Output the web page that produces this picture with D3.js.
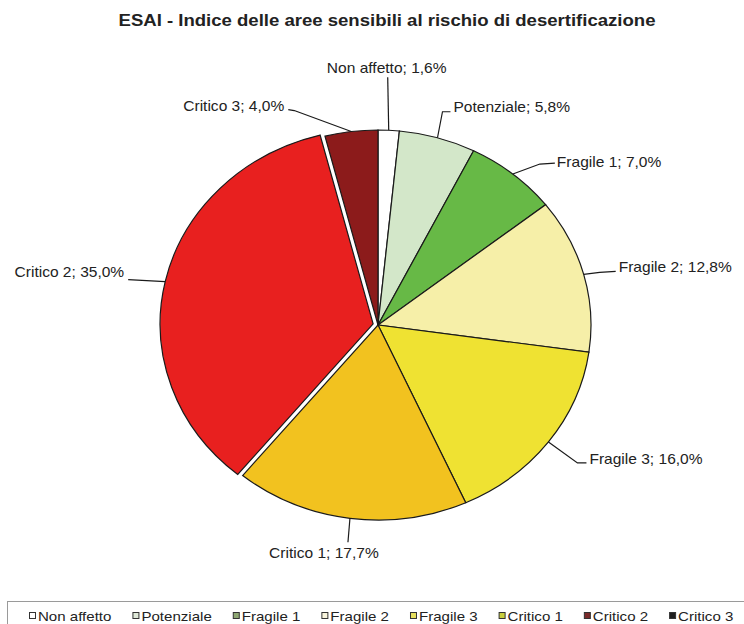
<!DOCTYPE html>
<html>
<head>
<meta charset="utf-8">
<script src="https://cdn.jsdelivr.net/npm/d3@7"></script>
<style>
  html, body { margin: 0; padding: 0; background: #ffffff; }
  svg { display: block; }
  text { font-family: "Liberation Sans", Arial, sans-serif; fill: #222; }
</style>
</head>
<body>
<script>
// ESAI classes and their share of the territory (%)
const categories = ["Non affetto", "Potenziale", "Fragile 1", "Fragile 2", "Fragile 3", "Critico 1", "Critico 2", "Critico 3"];
const values = [1.6, 5.8, 7.0, 12.8, 16.0, 17.7, 35.0, 4.0];
const sliceColors = ["#ffffff", "#d3e7c9", "#67b946", "#f6efa8", "#efe232", "#f2c21f", "#e8201f", "#8c1b1b"];
const legendColors = ["#ffffff", "#dfe9d8", "#8fa873", "#f8f4dc", "#e6df5e", "#c9cf3e", "#7b2b2b", "#1e1e1e"];
const explodedIndex = 6;

// leader-line layout: elbow / tail / text offsets from the slice edge point
const labelLayout = [
  { elbow: [-1, -53], tail: null,      text: [-2, -62],  anchor: "middle" },
  { elbow: [5, -26],  tail: [13, -26], text: [16, -31],  anchor: "start" },
  { elbow: [27, -10], tail: [42, -11], text: [44, -12],  anchor: "start" },
  { elbow: [16, -2],  tail: [32, -3],  text: [35, -7],   anchor: "start" },
  { elbow: [29, 21],  tail: [38, 21],  text: [41, 17],   anchor: "start" },
  { elbow: [-2, 24],  tail: null,      text: [-26, 35],  anchor: "middle" },
  { elbow: [-37, -2], tail: null,      text: [-41, -10], anchor: "end" },
  { elbow: [-57, -21], tail: [-63, -22], text: [-67, -25], anchor: "end" }
];

const W = 744, H = 624;
const cx = 378, cy = 325, rx = 213, ry = 195;
const explode = 5;

const fmt = v => d3.format(".1f")(v).replace(".", ",") + "%";

// horizontally widened text, anchored at x
function widen(sel, x, k) {
  return sel.attr("transform", `translate(${x},0) scale(${k},1) translate(${-x},0)`);
}

const svg = d3.select("body").append("svg")
  .attr("width", W).attr("height", H);

svg.append("rect").attr("width", W).attr("height", H).attr("fill", "#fff");

// title
widen(svg.append("text")
  .attr("x", 387).attr("y", 26)
  .attr("text-anchor", "middle")
  .style("font-size", "16px")
  .style("font-weight", "bold")
  .text("ESAI - Indice delle aree sensibili al rischio di desertificazione"), 387, 1.16);

// pie (drawn on a circle of radius rx, squeezed vertically into an ellipse)
const pie = d3.pie().sort(null).value(d => d).startAngle(0).endAngle(2 * Math.PI);
const arcs = pie(values);
const arc = d3.arc().innerRadius(0).outerRadius(rx);

const pieG = svg.append("g")
  .attr("transform", `translate(${cx},${cy}) scale(1,${ry / rx})`);

const explodeShift = d => {
  const a = (d.startAngle + d.endAngle) / 2;
  return `translate(${explode * Math.sin(a)},${-explode * Math.cos(a) * rx / ry})`;
};

pieG.selectAll("path.slice")
  .data(arcs)
  .join("path")
  .attr("class", "slice")
  .attr("d", arc)
  .attr("transform", (d, i) => i === explodedIndex ? explodeShift(d) : null)
  .attr("fill", (d, i) => sliceColors[i])
  .attr("stroke", "#1a1a1a")
  .attr("stroke-width", 1.2)
  .attr("vector-effect", "non-scaling-stroke");

// exploded slice: white gap around it, dark outline on top
pieG.append("path")
  .datum(arcs[explodedIndex])
  .attr("d", arc)
  .attr("transform", explodeShift)
  .attr("fill", "none")
  .attr("stroke", "#ffffff")
  .attr("stroke-width", 4)
  .attr("vector-effect", "non-scaling-stroke");
pieG.append("path")
  .datum(arcs[explodedIndex])
  .attr("d", arc)
  .attr("transform", explodeShift)
  .attr("fill", sliceColors[explodedIndex])
  .attr("stroke", "#1a1a1a")
  .attr("stroke-width", 1.2)
  .attr("vector-effect", "non-scaling-stroke");

// edge point of a slice on the ellipse, at its mid angle
function edgePoint(d, i) {
  const a = (d.startAngle + d.endAngle) / 2;
  const off = i === explodedIndex ? explode : 0;
  return [cx + (rx + off) * Math.sin(a), cy - (ry + off) * Math.cos(a)];
}

const labelG = svg.append("g");
arcs.forEach((d, i) => {
  const p = edgePoint(d, i);
  const L = labelLayout[i];
  const pts = [p, [p[0] + L.elbow[0], p[1] + L.elbow[1]]];
  if (L.tail) pts.push([p[0] + L.tail[0], p[1] + L.tail[1]]);
  labelG.append("path")
    .attr("d", d3.line()(pts))
    .attr("fill", "none")
    .attr("stroke", "#1a1a1a")
    .attr("stroke-width", 1.2);
  const tx = p[0] + L.text[0], ty = p[1] + L.text[1];
  widen(labelG.append("text")
    .attr("x", tx).attr("y", ty)
    .attr("dy", "0.35em")
    .attr("text-anchor", L.anchor)
    .style("font-size", "14px")
    .text(`${categories[i]}; ${fmt(values[i])}`), tx, 1.11);
});

// legend
const legG = svg.append("g");
legG.append("rect")
  .attr("x", 7.5).attr("y", 601.5)
  .attr("width", 760).attr("height", 40)
  .attr("fill", "#fff")
  .attr("stroke", "#9a9a9a");

const legK = 1.16;
let lx = 29;
categories.forEach((c, i) => {
  const item = legG.append("g").attr("transform", `translate(${lx},0)`);
  item.append("rect")
    .attr("x", 0.5).attr("y", 612.5)
    .attr("width", 6).attr("height", 6)
    .attr("fill", legendColors[i])
    .attr("stroke", "#333");
  const t = widen(item.append("text")
    .attr("x", 9).attr("y", 616)
    .attr("dy", "0.35em")
    .style("font-size", "13px")
    .text(c), 9, legK);
  lx += 9 + t.node().getComputedTextLength() * legK + 21;
});
</script>
</body>
</html>
